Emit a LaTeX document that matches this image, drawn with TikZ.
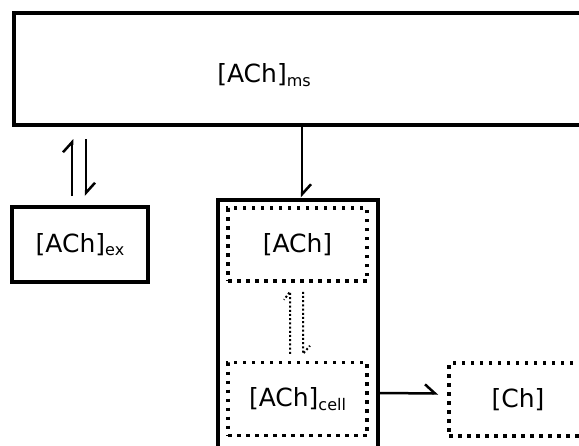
\documentclass[tikz,border=0pt]{standalone}
\usepackage{fontspec}
\setmainfont{DejaVu Sans}
\usetikzlibrary{arrows.meta,calc}

% concentration with a lowered index
\newcommand{\achsub}[1]{[ACh]\raisebox{-3.5pt}{\fontsize{16}{16}\selectfont #1}}

\tikzset{
  solidbox/.style={draw, line width=4pt, minimum width=136pt, minimum height=75pt, inner sep=0pt},
  dotbox/.style={draw, line width=3.5pt, dash pattern=on 3.5pt off 5.5pt, minimum width=139pt, minimum height=73pt, inner sep=0pt},
  harpoon/.style={line width=2.5pt, -{Straight Barb[left,length=10pt,width=18pt]}},
  dotharpoon/.style={line width=2pt, dash pattern=on 2pt off 2.2pt},
}

\begin{document}
\begin{tikzpicture}[x=1pt,y=-1pt,font=\fontsize{25}{30}\selectfont]
  \useasboundingbox (0,0) rectangle (579,445);

  % draw compartments
  \node[solidbox, minimum width=600pt, minimum height=112pt, anchor=west] (ms) at (12,69) {};
  \node (mstext) at (264,75) {\achsub{ms}};
  \node[solidbox] (ex) at (80,244.5) {\achsub{ex}};
  \node[solidbox, minimum width=160pt, minimum height=270pt, anchor=north] (cell) at (298,197.5) {};

  % draw pools inside and outside the cell
  \node[dotbox] (ach) at (297.5,244.5) {[ACh]};
  \node[dotbox] (achcell) at (297.5,399) {\achsub{cell}};
  \node[dotbox, minimum width=138pt] (ch) at (518,399.5) {[Ch]};

  % draw exchange with the extracellular pool
  \draw[harpoon] ($(ex.north)+(-8,-9)$) -- ($(ex.north |- ms.south)+(-8,12)$);
  \draw[harpoon] ($(ex.north |- ms.south)+(6,12)$) -- ($(ex.north)+(6,-9)$);

  % draw uptake and hydrolysis
  \draw[harpoon] ($(cell.north |- ms.south)+(4,0)$) -- ($(cell.north)+(4,0)$);
  \draw[harpoon] ($(cell.east |- achcell.east)+(0,-6)$) -- ($(ch.west)+(-9,-6)$);

  % draw dotted exchange inside the cell
  \draw[dotharpoon] ($(ach.south)+(-7.5,71)$) -- ($(ach.south)+(-7.5,9)$) -- ++(-6,8);
  \draw[dotharpoon] ($(ach.south)+(5.5,9)$) -- ($(ach.south)+(5.5,71)$) -- ++(7,-8);
\end{tikzpicture}
\end{document}
